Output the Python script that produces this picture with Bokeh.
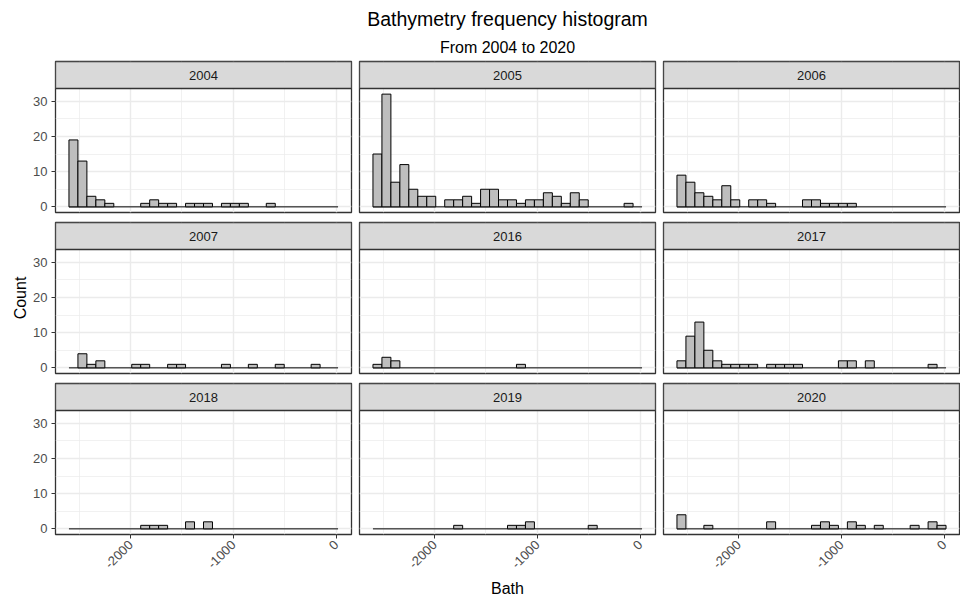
import math
import numpy as np
from bokeh.plotting import figure
from bokeh.layouts import column, row
from bokeh.models import Range1d, FixedTicker, Title, ColumnDataSource
from bokeh.core.properties import value
from bokeh.embed import file_html
from bokeh.resources import INLINE

# ---- data -------------------------------------------------------------
years = ["2004", "2005", "2006", "2007", "2016", "2017", "2018", "2019", "2020"]

# histogram counts per year, 30 bins over the bathymetry range
counts_2004 = [19, 13, 3, 2, 1, 0, 0, 0, 1, 2, 1, 1, 0, 1, 1, 1, 0, 1, 1, 1, 0, 0, 1, 0, 0, 0, 0, 0, 0, 0]
counts_2005 = [15, 32, 7, 12, 5, 3, 3, 0, 2, 2, 3, 1, 5, 5, 2, 2, 1, 2, 2, 4, 3, 1, 4, 2, 0, 0, 0, 0, 1, 0]
counts_2006 = [9, 7, 4, 3, 2, 6, 2, 0, 2, 2, 1, 0, 0, 0, 2, 2, 1, 1, 1, 1, 0, 0, 0, 0, 0, 0, 0, 0, 0, 0]
counts_2007 = [0, 4, 1, 2, 0, 0, 0, 1, 1, 0, 0, 1, 1, 0, 0, 0, 0, 1, 0, 0, 1, 0, 0, 1, 0, 0, 0, 1, 0, 0]
counts_2016 = [1, 3, 2, 0, 0, 0, 0, 0, 0, 0, 0, 0, 0, 0, 0, 0, 1, 0, 0, 0, 0, 0, 0, 0, 0, 0, 0, 0, 0, 0]
counts_2017 = [2, 9, 13, 5, 2, 1, 1, 1, 1, 0, 1, 1, 1, 1, 0, 0, 0, 0, 2, 2, 0, 2, 0, 0, 0, 0, 0, 0, 1, 0]
counts_2018 = [0, 0, 0, 0, 0, 0, 0, 0, 1, 1, 1, 0, 0, 2, 0, 2, 0, 0, 0, 0, 0, 0, 0, 0, 0, 0, 0, 0, 0, 0]
counts_2019 = [0, 0, 0, 0, 0, 0, 0, 0, 0, 1, 0, 0, 0, 0, 0, 1, 1, 2, 0, 0, 0, 0, 0, 0, 1, 0, 0, 0, 0, 0]
counts_2020 = [4, 0, 0, 1, 0, 0, 0, 0, 0, 0, 2, 0, 0, 0, 0, 1, 2, 1, 0, 2, 1, 0, 1, 0, 0, 0, 1, 0, 2, 1]

counts_by_year = [counts_2004, counts_2005, counts_2006, counts_2007, counts_2016,
                  counts_2017, counts_2018, counts_2019, counts_2020]

# range of Bath values and number of bins
bath_min, bath_max, n_bins = -2556, -25, 30

x_major = [-2000, -1000, 0]
x_minor = [-2500, -1500, -500]
y_major = [0, 10, 20, 30]
y_minor = [5, 15, 25]

title_text = "Bathymetry frequency histogram"
subtitle_text = "From 2004 to 2020"
x_label = "Bath"
y_label = "Count"

# ---- styling ----------------------------------------------------------
FONT = "Liberation Sans"
FRAME_W, FRAME_H, STRIP_PX = 296, 151, 27
BORDER = "#333333"

# bin edges (bins centred on the range ends, as ggplot does)
bin_width = (bath_max - bath_min) / (n_bins - 1)
edges = bath_min - bin_width / 2 + bin_width * np.arange(n_bins + 1)
span = edges[-1] - edges[0]
x_lo, x_hi = edges[0] - 0.05 * span, edges[-1] + 0.05 * span

y_max = max(max(c) for c in counts_by_year)
y_lo, y_top = -0.05 * y_max, 1.05 * y_max
units_per_px = (y_top - y_lo) / (FRAME_H - STRIP_PX)
y_hi = y_top + STRIP_PX * units_per_px


def panel(year, counts, r, c):
    left = c == 0
    bottom = r == 2
    p = figure(frame_width=FRAME_W, frame_height=FRAME_H,
               x_range=Range1d(x_lo, x_hi), y_range=Range1d(y_lo, y_hi),
               output_backend="svg", toolbar_location=None, title_location=None,
               x_axis_location="below" if bottom else None,
               y_axis_location="left" if left else None,
               min_border_left=55 if c == 0 else 4,
               min_border_right=1 if c == 2 else 4,
               min_border_top=61 if r == 0 else 5,
               min_border_bottom=67 if r == 2 else 5)
    p.background_fill_color = "white"
    p.border_fill_color = "white"
    p.outline_line_color = BORDER
    p.outline_line_width = 1.3

    # grid
    p.xgrid.ticker = FixedTicker(ticks=x_major, minor_ticks=x_minor)
    p.ygrid.ticker = FixedTicker(ticks=y_major, minor_ticks=y_minor)
    for g in (p.xgrid, p.ygrid):
        g.grid_line_color = "#EBEBEB"
        g.grid_line_width = 1.4
        g.minor_grid_line_color = "#EBEBEB"
        g.minor_grid_line_width = 0.7

    # bars
    counts = np.asarray(counts)
    nz = counts > 0
    src = ColumnDataSource(dict(left=edges[:-1][nz], right=edges[1:][nz],
                                top=counts[nz], bottom=np.zeros(nz.sum())))
    p.line(x=[edges[0], edges[-1]], y=[0, 0], line_color="black", line_width=1)
    p.quad(left="left", right="right", top="top", bottom="bottom", source=src,
           fill_color="#BEBEBE", line_color="black", line_width=1)

    # facet strip
    p.quad(left=[x_lo], right=[x_hi], bottom=[y_top], top=[y_hi],
           fill_color="#D9D9D9", line_color=BORDER, line_width=1.3)
    p.text(x=[(x_lo + x_hi) / 2], y=[(y_top + y_hi) / 2], text=[year],
           text_align="center", text_baseline="middle",
           text_font=value(FONT), text_font_size="13px", text_color="#1A1A1A")

    axes = []
    if left:
        p.yaxis.ticker = FixedTicker(ticks=y_major)
        axes.append(p.yaxis[0])
    if bottom:
        p.xaxis.ticker = FixedTicker(ticks=x_major)
        p.xaxis.major_label_orientation = math.pi / 4
        p.xaxis.major_label_overrides = {t: str(t) for t in x_major}
        axes.append(p.xaxis[0])
    for ax in axes:
        ax.axis_line_color = None
        ax.major_tick_line_color = BORDER
        ax.major_tick_out = 4
        ax.major_tick_in = 0
        ax.minor_tick_out = 0
        ax.minor_tick_in = 0
        ax.major_label_text_color = "#4D4D4D"
        ax.major_label_text_font = FONT
        ax.major_label_text_font_size = "13px"
        ax.major_label_standoff = 4
        ax.axis_label_text_font = FONT
        ax.axis_label_text_font_size = "16px"
        ax.axis_label_text_font_style = "normal"
        ax.axis_label_text_color = "black"
        ax.axis_label_standoff = 5

    if left and r == 1:
        p.yaxis.axis_label = y_label
        p.yaxis.axis_label_standoff = 1
    if bottom and c == 1:
        p.xaxis.axis_label = x_label

    if r == 0 and c == 1:
        p.add_layout(Title(text=subtitle_text, align="center", text_font=FONT,
                           text_font_size="16px", text_font_style="normal",
                           text_color="black", standoff=11), "above")
        p.add_layout(Title(text=title_text, align="center", text_font=FONT,
                           text_font_size="19.5px", text_font_style="normal",
                           text_color="black", standoff=3), "above")
    return p


rows = []
for r in range(3):
    figs = [panel(years[3 * r + c], counts_by_year[3 * r + c], r, c) for c in range(3)]
    rows.append(row(*figs))
layout = column(*rows)

open("out.html", "w").write(file_html(layout, INLINE))
